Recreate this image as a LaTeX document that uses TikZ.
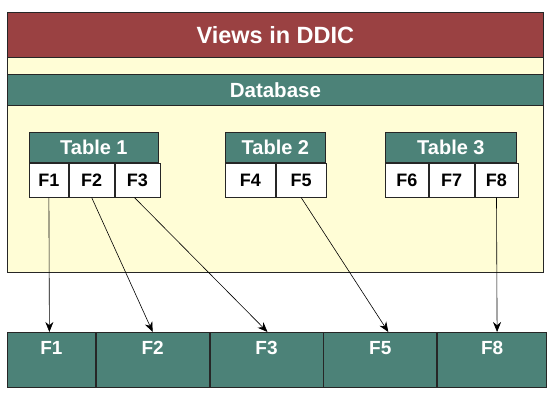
\documentclass[tikz,border=0pt]{standalone}
\usepackage{fontspec}
\setmainfont{Liberation Sans}
\usetikzlibrary{positioning,arrows.meta}
\definecolor{viewred}{RGB}{154,65,66}
\definecolor{dbgreen}{RGB}{76,130,120}
\definecolor{dbyellow}{RGB}{255,253,214}

\begin{document}
\begin{tikzpicture}[x=1pt, y=-1pt, node distance=0pt,
		band/.style={draw=black!85, line width=0.8pt, minimum width=536pt, inner sep=0pt, anchor=north west, text=white},
		head/.style={draw=black!85, fill=dbgreen, line width=0.8pt, minimum height=30pt, inner sep=0pt, anchor=north west, text=white, font=\bfseries\fontsize{20}{24}\selectfont},
		field/.style={draw=black!85, fill=white, line width=0.8pt, minimum height=34pt, inner sep=0pt, font=\bfseries\fontsize{18}{21}\selectfont},
		outcol/.style={draw=black!85, fill=dbgreen, line width=0.8pt, minimum height=55pt, inner sep=0pt, text height=22.5pt, text depth=32.5pt, text=white, font=\bfseries\fontsize{19}{23}\selectfont},
		link/.style={-{Stealth[length=10pt,width=8pt]}, line width=0.6pt}]
			\useasboundingbox (0,0) rectangle (550,405);

			% frame of the view
			\node[band, fill=viewred, minimum height=45pt, font=\bfseries\fontsize{23.5}{27}\selectfont] (title) at (7,12) {Views in DDIC};
			\node[band, fill=dbyellow, minimum height=17pt] (gap) at (7,57) {};
			\node[band, fill=dbgreen, minimum height=31pt, font=\bfseries\fontsize{20.5}{24}\selectfont] (db) at (7,74) {Database};
			\node[band, fill=dbyellow, minimum height=167pt] (body) at (7,105) {};

			% tables
			\node[head, minimum width=129pt] (t1) at (29,132) {Table 1};
			\node[field, minimum width=39pt] (t1f1) [below right=0pt and 0pt of t1.south west, anchor=north west] {F1};
			\node[field, minimum width=45pt] (t1f2) [right=of t1f1] {F2};
			\node[field, minimum width=45pt] (t1f3) [right=of t1f2] {F3};

			\node[head, minimum width=100pt] (t2) at (225,132) {Table 2};
			\node[field, minimum width=50pt] (t2f4) [below right=0pt and 0pt of t2.south west, anchor=north west] {F4};
			\node[field, minimum width=50pt] (t2f5) [right=of t2f4] {F5};

			\node[head, minimum width=131pt] (t3) at (385,132) {Table 3};
			\node[field, minimum width=43pt] (t3f6) [below right=0pt and 0pt of t3.south west, anchor=north west] {F6};
			\node[field, minimum width=45pt] (t3f7) [right=of t3f6] {F7};
			\node[field, minimum width=43pt] (t3f8) [right=of t3f7] {F8};

			% resulting view
			\node[outcol, minimum width=88pt, anchor=north west] (v1) at (7,332) {F1};
			\node[outcol, minimum width=113pt] (v2) [right=of v1] {F2};
			\node[outcol, minimum width=113pt] (v3) [right=of v2] {F3};
			\node[outcol, minimum width=113pt] (v5) [right=of v3] {F5};
			\node[outcol, minimum width=109pt] (v8) [right=of v5] {F8};

			\draw[link] (t1f1.south) -- ([xshift=-2pt]v1.north);
			\draw[link] (t1f2.south) -- (v2.north);
			\draw[link] ([xshift=-3pt]t1f3.south) -- ([xshift=1pt]v3.north);
			\draw[link] (t2f5.south) -- ([xshift=8pt]v5.north);
			\draw[link] (t3f8.south) -- ([xshift=5pt]v8.north);
		\end{tikzpicture}
\end{document}
